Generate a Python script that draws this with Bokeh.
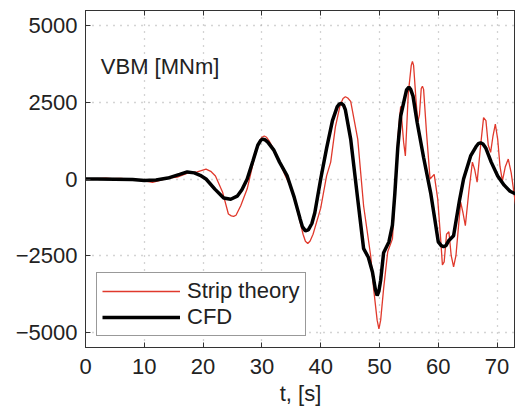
from bokeh.plotting import figure
from bokeh.models import Range1d, FixedTicker, LinearAxis, Label, Legend, LegendItem
from bokeh.embed import file_html
from bokeh.resources import INLINE

# ---- data ----
x_ticks = [0, 10, 20, 30, 40, 50, 60, 70]
y_ticks = [-5000, -2500, 0, 2500, 5000]
y_tick_labels = ["\u22125000", "\u22122500", "0", "2500", "5000"]

cfd_t = [0, 2, 5, 8, 10, 12, 14, 16, 17.3, 18.5, 19.5, 20.5, 22, 23.5, 24.7, 25.8, 26.6, 27.5,
         28.5, 29.3, 29.8, 30.1, 30.5, 31, 32, 33, 34.3, 35.5, 36.5, 36.9, 37.4, 37.9, 38.5, 39,
         40, 41, 42, 42.8, 43.1, 43.5, 43.9, 44.2, 45.1, 46.2, 47.3, 48.1, 48.8, 49.3, 49.6,
         49.9, 50.2, 50.7, 51.6, 52.2, 52.6, 53.1, 53.6, 54.3, 54.6, 55, 55.3, 55.7, 56.4, 57.5,
         58.7, 59.4, 60, 60.5, 60.9, 61.3, 61.8, 62.6, 63.6, 64.3, 65.5, 66.4, 66.8, 67.2, 67.6,
         68.1, 69, 70.1, 71.2, 72.2, 73.3]
cfd_v = [0, 0, -10, -20, -50, -30, 30, 150, 230, 200, 120, 0, -330, -620, -660, -560, -350, 0,
         600, 1100, 1260, 1300, 1280, 1200, 950, 550, 100, -600, -1300, -1560, -1690, -1660,
         -1450, -1100, 0, 1000, 1900, 2350, 2430, 2470, 2400, 2250, 1300, -500, -2270, -2550,
         -3030, -3600, -3800, -3650, -3300, -2400, -2050, -1500, -500, 1000, 2050, 2650, 2900,
         2990, 2920, 2700, 1850, 700, -450, -1300, -2050, -2170, -2200, -2170, -2000, -1850,
         -700, 0, 750, 1050, 1150, 1180, 1140, 1000, 550, 100, -200, -400, -500]

strip_t = [0, 2, 3.5, 4.5, 6, 8, 10, 11.4, 12.5, 14, 15.6, 17.5, 19, 20.5, 21.3, 22.1, 23.3,
           24.3, 24.8, 25.2, 25.6, 26.4, 27.5, 28.6, 29.5, 30.0, 30.4, 30.8, 31.2, 32, 33, 34,
           35, 36, 37, 37.4, 37.8, 38.2, 38.7, 40, 41, 41.7, 42.5, 43.3, 43.8, 44.2, 44.6, 45.1,
           46.3, 47.3, 48.5, 49, 49.6, 49.9, 50.2, 50.7, 51.4, 52.2, 52.7, 53.1, 53.6, 54.1,
           54.4, 54.9, 55.4, 55.6, 55.8, 56.2, 56.5, 56.8, 57.1, 57.3, 57.5, 58.0, 58.6, 59.3,
           59.9, 60.4, 60.7, 61.0, 61.4, 61.8, 62.2, 62.6, 63.0, 63.8, 64.2, 64.6, 65.2, 65.8,
           66.2, 66.6, 67.2, 67.7, 68.1, 68.5, 68.9, 69.3, 69.7, 70.1, 70.5, 70.9, 71.4, 71.9,
           72.4, 73.3]
strip_v = [0, 10, 30, 10, 20, -10, -60, -110, -50, 30, 60, 200, 230, 320, 250, 100, -420,
           -1140, -1200, -1220, -1180, -870, -320, 590, 1200, 1360, 1400, 1360, 1250, 970, 550,
           100, -300, -1000, -1800, -2030, -2100, -2020, -1800, -950, 100, 550, 1700, 2400, 2620,
           2680, 2640, 2530, 1300, -880, -2500, -3570, -4600, -4880, -4600, -3570, -2370, -1950,
           -320, 1300, 2370, 1200, 750, 2800, 3700, 3830, 3700, 2600, 1850, 2100, 2950, 3020,
           2920, 1500, 0, 150, -650, -1950, -2800, -2700, -1800, -1720, -2500, -2860, -2500,
           -750, -1100, -1520, -400, 550, 300, -100, 1100, 2000, 1900, 1100, 870, 1400, 1790,
           1300, 400, -60, 400, 650, 200, -1050]

FONT = "Liberation Sans"
FS = "22px"
TXT = "#222222"
AX = "#333333"

p = figure(width=515, height=408,
           x_range=Range1d(0, 73.13), y_range=Range1d(-5490, 5490),
           output_backend="svg", toolbar_location=None,
           min_border_left=85, min_border_right=0, min_border_top=10, min_border_bottom=60)
p.outline_line_color = AX
p.outline_line_width = 1
p.background_fill_color = "white"
p.border_fill_color = "white"

# axes
for ax in (p.xaxis[0], p.yaxis[0]):
    ax.major_tick_in = 5
    ax.major_tick_out = 0
    ax.minor_tick_in = 0
    ax.minor_tick_out = 0
    ax.axis_line_color = AX
    ax.major_tick_line_color = AX
    ax.major_label_text_font = FONT
    ax.major_label_text_font_size = FS
    ax.major_label_text_color = TXT
    ax.axis_label_text_font = FONT
    ax.axis_label_text_font_size = FS
    ax.axis_label_text_color = TXT
    ax.axis_label_text_font_style = "normal"

p.xaxis[0].ticker = FixedTicker(ticks=x_ticks)
p.yaxis[0].ticker = FixedTicker(ticks=y_ticks)
p.yaxis[0].major_label_overrides = {t: s for t, s in zip(y_ticks, y_tick_labels)}
p.xaxis[0].major_label_standoff = 11
p.yaxis[0].major_label_standoff = 8
p.xaxis[0].axis_label = "t, [s]"
p.xaxis[0].axis_label_standoff = 4

top = LinearAxis(ticker=FixedTicker(ticks=x_ticks), major_tick_in=5, major_tick_out=0,
                 minor_tick_in=0, minor_tick_out=0, axis_line_color=AX,
                 major_tick_line_color=AX, major_label_standoff=0,
                 major_label_overrides={t: "" for t in x_ticks})
p.add_layout(top, "above")

# grid
p.xgrid.ticker = FixedTicker(ticks=x_ticks)
p.ygrid.ticker = FixedTicker(ticks=y_ticks)
for g in (p.xgrid[0], p.ygrid[0]):
    g.grid_line_color = "#a8a8a8"
    g.grid_line_dash = "1 6"
    g.grid_line_width = 1.3

r_strip = p.line(strip_t, strip_v, line_color="#e0392c", line_width=1.3)
r_cfd = p.line(cfd_t, cfd_v, line_color="black", line_width=3.5)

p.add_layout(Label(x=2.6, y=3670, text="VBM [MNm]", text_font=FONT, text_font_size=FS,
                   text_color=TXT, text_baseline="alphabetic"))

legend = Legend(items=[LegendItem(label="Strip theory", renderers=[r_strip]),
                       LegendItem(label="CFD", renderers=[r_cfd])],
                location=(11, 11), orientation="vertical",
                label_text_font=FONT, label_text_font_size=FS, label_text_color=TXT,
                glyph_width=78, glyph_height=24, label_height=24, label_standoff=7,
                padding=5, spacing=0, margin=0,
                border_line_color=AX, border_line_width=1,
                background_fill_color="white", background_fill_alpha=1)
p.add_layout(legend, "center")

open("out.html", "w").write(file_html(p, INLINE))
